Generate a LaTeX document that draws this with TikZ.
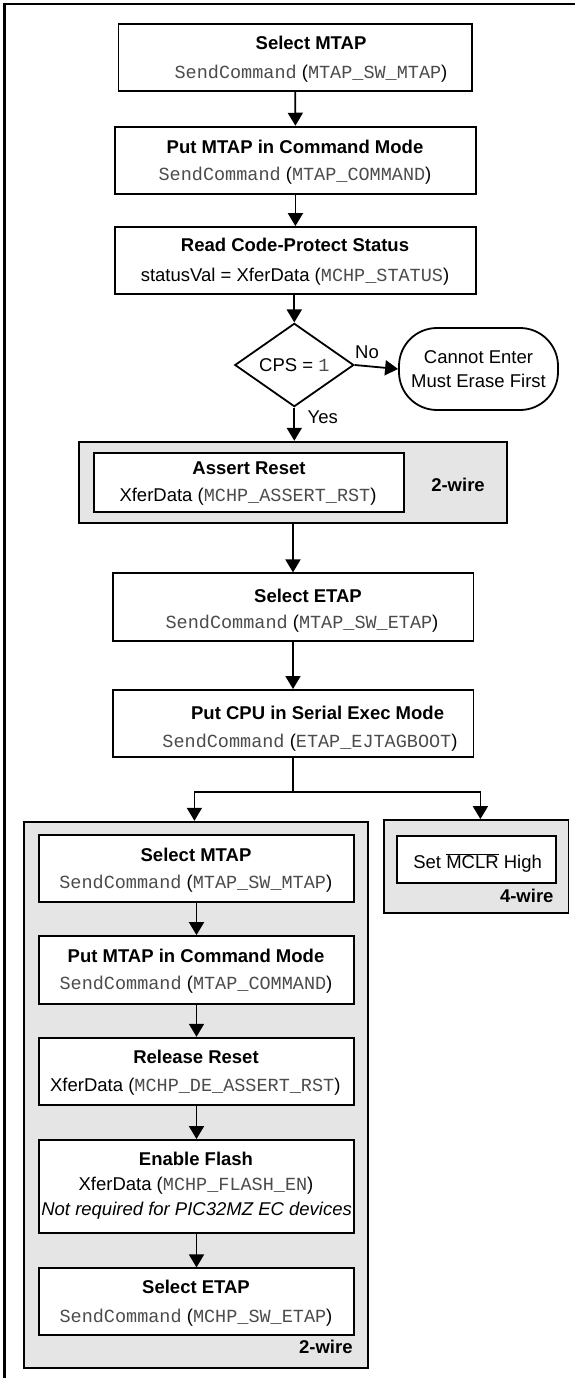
\documentclass[tikz,border=0pt]{standalone}
\usepackage{fontspec}
\setmainfont{Liberation Sans}
\setsansfont{Liberation Sans}
\setmonofont{Liberation Mono}
\usetikzlibrary{arrows.meta,shapes.geometric}
\newcommand{\mcode}[1]{{\color{black!70}\ttfamily #1}}
\begin{document}
\begin{tikzpicture}[x=1pt,y=-1pt,
  every node/.style={font=\fontsize{18.5}{24}\selectfont},
  box/.style={draw, line width=1.8pt, fill=white, rectangle, inner sep=0pt},
  grp/.style={draw, line width=1.8pt, fill=black!10, rectangle, inner sep=0pt},
  t/.style={anchor=base, inner sep=0pt},
  tb/.style={anchor=base, inner sep=0pt, font=\fontsize{18.5}{24}\selectfont\bfseries},
  arr/.style={line width=1.8pt, -{Triangle[width=15pt,length=13pt]}},
]
\useasboundingbox (0,0) rectangle (575,1378);
% outer frame
\coordinate (fb) at (4.4,1378);
\coordinate (ftl) at (4.4,4);
\coordinate (fr) at (575,4);
\draw[line width=2.2pt] (fb) -- (ftl) -- (fr);

% main column boxes
\node[box, minimum width=353.6pt, minimum height=66.7pt] (b1) at (295.2,57.4) {};
\node[box, minimum width=361.2pt, minimum height=67.3pt] (b2) at (295.4,160.3) {};
\node[box, minimum width=361.2pt, minimum height=67pt] (b3) at (295.4,260.5) {};
\node[draw, line width=1.8pt, diamond, minimum width=119pt, minimum height=70pt, inner sep=0pt] (dia) at (294.3,365) {CPS = \mcode{1}};
\node[draw, line width=1.8pt, rectangle, rounded corners=38pt, minimum width=159pt, minimum height=82pt, inner sep=0pt, align=center] (ov) at (478.5,369) {Cannot Enter\\Must Erase First};

\node[grp, minimum width=428.2pt, minimum height=81pt] (gA) at (292.9,482.2) {};
\node[box, minimum width=310pt, minimum height=59pt] (ar) at (249,482.2) {};
\node[box, minimum width=360.8pt, minimum height=67.7pt] (b4) at (293,607.2) {};
\node[box, minimum width=360.8pt, minimum height=66.7pt] (b5) at (293,723.3) {};

% left group
\node[grp, minimum width=344pt, minimum height=546pt] (gB) at (196.2,1094.7) {};
\node[box, minimum width=315.3pt, minimum height=67pt] (l1) at (196.5,868.5) {};
\node[box, minimum width=315.3pt, minimum height=68pt] (l2) at (196.5,970) {};
\node[box, minimum width=315.3pt, minimum height=67.6pt] (l3) at (196.5,1071.5) {};
\node[box, minimum width=315.3pt, minimum height=92.7pt] (l4) at (196.5,1186.3) {};
\node[box, minimum width=315.3pt, minimum height=66.4pt] (l5) at (196.5,1301.5) {};

% right group
\node[grp, minimum width=184.1pt, minimum height=93.3pt] (gC) at (476.35,866.65) {};
\node[box, minimum width=159.5pt, minimum height=47pt] (mc) at (476.5,859.2) {};

% texts
\node[tb] (t1a) at (311,49.3) {Select MTAP};
\node[t] (t1b) at (311,78.3) {\mcode{SendCommand} (\mcode{MTAP\_SW\_MTAP})};
\node[tb] (t2a) at (295,153.3) {Put MTAP in Command Mode};
\node[t] (t2b) at (295,180.3) {\mcode{SendCommand} (\mcode{MTAP\_COMMAND})};
\node[tb] (t3a) at (295,251.6) {Read Code-Protect Status};
\node[t] (t3b) at (295,281.6) {statusVal = XferData (\mcode{MCHP\_STATUS})};
\node[t] (tno) at (367,358.3) {No};
\node[t] (tyes) at (322.7,423.6) {Yes};
\node[tb] (tara) at (249,474.9) {Assert Reset};
\node[t] (tarb) at (248,501.6) {XferData (\mcode{MCHP\_ASSERT\_RST})};
\node[tb] (tw1) at (458,491.6) {2-wire};
\node[tb] (t4a) at (308,602.6) {Select ETAP};
\node[t] (t4b) at (302,628.6) {\mcode{SendCommand} (\mcode{MTAP\_SW\_ETAP})};
\node[tb] (t5a) at (317.6,719.3) {Put CPU in Serial Exec Mode};
\node[t] (t5b) at (310,747.3) {\mcode{SendCommand} (\mcode{ETAP\_EJTAGBOOT})};

\node[tb] (l1a) at (196,861.6) {Select MTAP};
\node[t] (l1b) at (195.8,888.6) {\mcode{SendCommand} (\mcode{MTAP\_SW\_MTAP})};
\node[tb] (l2a) at (196,962.3) {Put MTAP in Command Mode};
\node[t] (l2b) at (196,989.9) {\mcode{SendCommand} (\mcode{MTAP\_COMMAND})};
\node[tb] (l3a) at (196,1063.3) {Release Reset};
\node[t] (l3b) at (195.3,1091.6) {XferData (\mcode{MCHP\_DE\_ASSERT\_RST})};
\node[tb] (l4a) at (196,1165.6) {Enable Flash};
\node[t] (l4b) at (196,1190.9) {XferData (\mcode{MCHP\_FLASH\_EN})};
\node[t] (l4c) at (196.6,1215.9) {\itshape Not required for PIC32MZ EC devices};
\node[tb] (l5a) at (196,1293.3) {Select ETAP};
\node[t] (l5b) at (196,1322.6) {\mcode{SendCommand} (\mcode{MCHP\_SW\_ETAP})};
\node[tb, anchor=base east] (tw2) at (352.8,1353.6) {2-wire};

\node[t] (tmc) at (477.6,868.3) {Set $\overline{\hbox{MCLR}}$ High};
\node[tb, anchor=base east] (tw4) at (553.7,902.6) {4-wire};

% connectors
\draw[arr] (b1.south) -- (b2.north);
\draw[arr] (b2.south) -- (b3.north);
\draw[arr] (b3.south -| dia.north) -- (dia.north);
\draw[arr] (dia.east) -- (ov.west);
\draw[arr] (dia.south) -- (dia.south |- gA.north);
\draw[arr] (gA.south) -- (b4.north);
\draw[arr] (b4.south) -- (b5.north);
\coordinate (sl) at (194.4,791.7);
\coordinate (sr) at (480.4,791.7);
\draw[arr] (b5.south) |- (sl) -- (sl |- gB.north);
\draw[arr] (b5.south) |- (sr) -- (sr |- gC.north);
\draw[arr] (l1.south) -- (l2.north);
\draw[arr] (l2.south) -- (l3.north);
\draw[arr] (l3.south) -- (l4.north);
\draw[arr] (l4.south) -- (l5.north);
\end{tikzpicture}
\end{document}
